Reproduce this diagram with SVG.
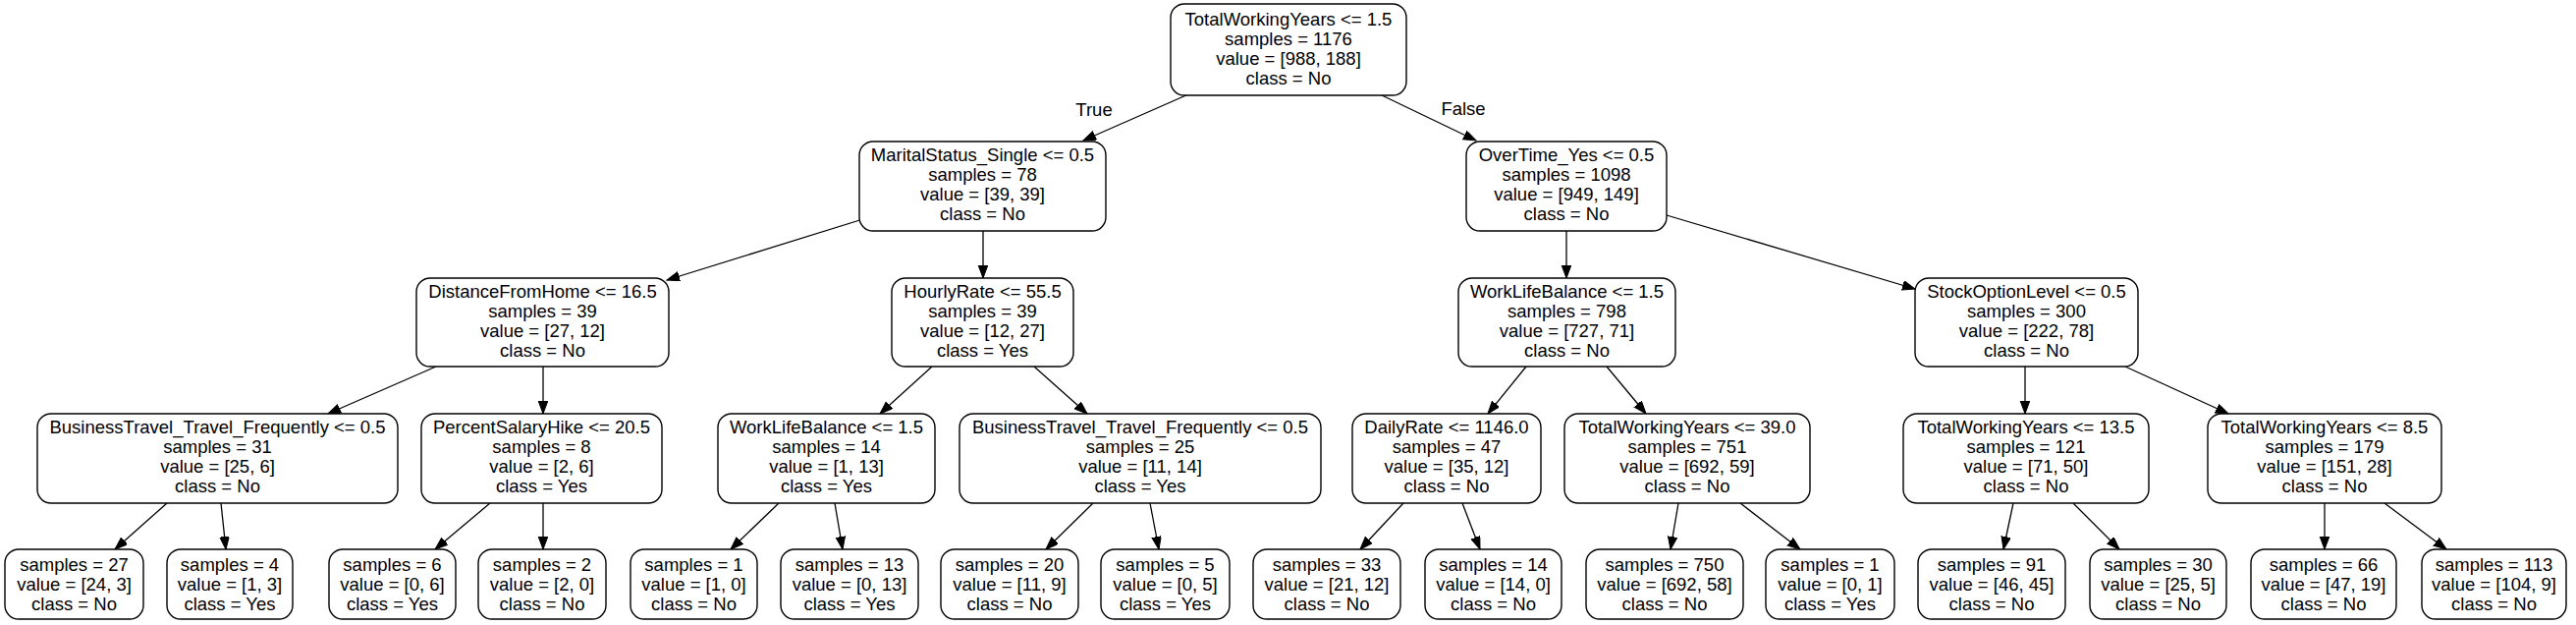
<svg xmlns="http://www.w3.org/2000/svg" width="2623" height="636" viewBox="0 0 2623 636">
<style>
.n rect{fill:#fff;stroke:#000;stroke-width:1.4}
text{font-family:"Liberation Sans",Arial,sans-serif;font-size:18.5px;fill:#000;text-anchor:middle}
.e line{stroke:#000;stroke-width:1.3;marker-end:url(#ah)}
</style>
<defs>
<marker id="ah" markerUnits="userSpaceOnUse" markerWidth="14" markerHeight="11" refX="13" refY="4.8" orient="auto">
<path d="M0,0 L13,4.8 L0,9.6 z" fill="#000" stroke="#000" stroke-width="1"/>
</marker>
</defs>
<rect width="2623" height="636" fill="#fff"/>
<g id="connectors" class="e">
<line x1="1210" y1="96" x2="1103" y2="143"/>
<line x1="1405" y1="96" x2="1503" y2="143"/>
<line x1="882" y1="222" x2="679" y2="285"/>
<line x1="1001" y1="235" x2="1001" y2="283"/>
<line x1="1595" y1="235" x2="1595" y2="283"/>
<line x1="1697" y1="219" x2="1950" y2="294"/>
<line x1="444" y1="373" x2="334" y2="421"/>
<line x1="553" y1="373" x2="553" y2="421"/>
<line x1="949" y1="373" x2="896" y2="421"/>
<line x1="1053" y1="373" x2="1107" y2="421"/>
<line x1="1554" y1="373" x2="1515" y2="421"/>
<line x1="1636" y1="373" x2="1676" y2="421"/>
<line x1="2062" y1="373" x2="2062" y2="421"/>
<line x1="2164" y1="373" x2="2269" y2="421"/>
<line x1="170" y1="512" x2="117" y2="559"/>
<line x1="225" y1="512" x2="230" y2="559"/>
<line x1="499" y1="512" x2="443" y2="559"/>
<line x1="553" y1="512" x2="553" y2="559"/>
<line x1="793" y1="512" x2="744" y2="559"/>
<line x1="850" y1="512" x2="858" y2="559"/>
<line x1="1113" y1="512" x2="1065" y2="559"/>
<line x1="1171" y1="512" x2="1180" y2="559"/>
<line x1="1429" y1="512" x2="1385" y2="559"/>
<line x1="1489" y1="512" x2="1507" y2="559"/>
<line x1="1709" y1="512" x2="1701" y2="559"/>
<line x1="1772" y1="512" x2="1833" y2="559"/>
<line x1="2050" y1="512" x2="2040" y2="559"/>
<line x1="2111" y1="512" x2="2158" y2="559"/>
<line x1="2367" y1="512" x2="2367" y2="559"/>
<line x1="2428" y1="512" x2="2491" y2="559"/>
<text x="1114" y="118">True</text>
<text x="1490" y="117">False</text>
</g>
<g id="n0" class="n"><rect x="1192" y="4" width="240" height="93" rx="14"/><text x="1312" y="26">TotalWorkingYears &lt;= 1.5</text><text x="1312" y="46">samples = 1176</text><text x="1312" y="66">value = [988, 188]</text><text x="1312" y="86">class = No</text></g>
<g id="n1" class="n"><rect x="875" y="144" width="251" height="91" rx="14"/><text x="1000.5" y="164">MaritalStatus_Single &lt;= 0.5</text><text x="1000.5" y="184">samples = 78</text><text x="1000.5" y="204">value = [39, 39]</text><text x="1000.5" y="224">class = No</text></g>
<g id="n2" class="n"><rect x="1493" y="144" width="204" height="91" rx="14"/><text x="1595" y="164">OverTime_Yes &lt;= 0.5</text><text x="1595" y="184">samples = 1098</text><text x="1595" y="204">value = [949, 149]</text><text x="1595" y="224">class = No</text></g>
<g id="n3" class="n"><rect x="424" y="283" width="257" height="90" rx="14"/><text x="552.5" y="303">DistanceFromHome &lt;= 16.5</text><text x="552.5" y="323">samples = 39</text><text x="552.5" y="343">value = [27, 12]</text><text x="552.5" y="363">class = No</text></g>
<g id="n4" class="n"><rect x="908" y="283" width="185" height="90" rx="14"/><text x="1000.5" y="303">HourlyRate &lt;= 55.5</text><text x="1000.5" y="323">samples = 39</text><text x="1000.5" y="343">value = [12, 27]</text><text x="1000.5" y="363">class = Yes</text></g>
<g id="n5" class="n"><rect x="1485" y="283" width="221" height="90" rx="14"/><text x="1595.5" y="303">WorkLifeBalance &lt;= 1.5</text><text x="1595.5" y="323">samples = 798</text><text x="1595.5" y="343">value = [727, 71]</text><text x="1595.5" y="363">class = No</text></g>
<g id="n6" class="n"><rect x="1950" y="283" width="227" height="90" rx="14"/><text x="2063.5" y="303">StockOptionLevel &lt;= 0.5</text><text x="2063.5" y="323">samples = 300</text><text x="2063.5" y="343">value = [222, 78]</text><text x="2063.5" y="363">class = No</text></g>
<g id="n7" class="n"><rect x="38" y="421" width="367" height="91" rx="14"/><text x="221.5" y="441">BusinessTravel_Travel_Frequently &lt;= 0.5</text><text x="221.5" y="461">samples = 31</text><text x="221.5" y="481">value = [25, 6]</text><text x="221.5" y="501">class = No</text></g>
<g id="n8" class="n"><rect x="429" y="421" width="245" height="91" rx="14"/><text x="551.5" y="441">PercentSalaryHike &lt;= 20.5</text><text x="551.5" y="461">samples = 8</text><text x="551.5" y="481">value = [2, 6]</text><text x="551.5" y="501">class = Yes</text></g>
<g id="n9" class="n"><rect x="731" y="421" width="221" height="91" rx="14"/><text x="841.5" y="441">WorkLifeBalance &lt;= 1.5</text><text x="841.5" y="461">samples = 14</text><text x="841.5" y="481">value = [1, 13]</text><text x="841.5" y="501">class = Yes</text></g>
<g id="n10" class="n"><rect x="977" y="421" width="368" height="91" rx="14"/><text x="1161" y="441">BusinessTravel_Travel_Frequently &lt;= 0.5</text><text x="1161" y="461">samples = 25</text><text x="1161" y="481">value = [11, 14]</text><text x="1161" y="501">class = Yes</text></g>
<g id="n11" class="n"><rect x="1377" y="421" width="192" height="91" rx="14"/><text x="1473" y="441">DailyRate &lt;= 1146.0</text><text x="1473" y="461">samples = 47</text><text x="1473" y="481">value = [35, 12]</text><text x="1473" y="501">class = No</text></g>
<g id="n12" class="n"><rect x="1593" y="421" width="250" height="91" rx="14"/><text x="1718" y="441">TotalWorkingYears &lt;= 39.0</text><text x="1718" y="461">samples = 751</text><text x="1718" y="481">value = [692, 59]</text><text x="1718" y="501">class = No</text></g>
<g id="n13" class="n"><rect x="1938" y="421" width="250" height="91" rx="14"/><text x="2063" y="441">TotalWorkingYears &lt;= 13.5</text><text x="2063" y="461">samples = 121</text><text x="2063" y="481">value = [71, 50]</text><text x="2063" y="501">class = No</text></g>
<g id="n14" class="n"><rect x="2248" y="421" width="238" height="91" rx="14"/><text x="2367" y="441">TotalWorkingYears &lt;= 8.5</text><text x="2367" y="461">samples = 179</text><text x="2367" y="481">value = [151, 28]</text><text x="2367" y="501">class = No</text></g>
<g id="l1" class="n"><rect x="5" y="559" width="141" height="71" rx="14"/><text x="75.5" y="581">samples = 27</text><text x="75.5" y="601">value = [24, 3]</text><text x="75.5" y="621">class = No</text></g>
<g id="l2" class="n"><rect x="170" y="559" width="128" height="71" rx="14"/><text x="234" y="581">samples = 4</text><text x="234" y="601">value = [1, 3]</text><text x="234" y="621">class = Yes</text></g>
<g id="l3" class="n"><rect x="335" y="559" width="129" height="71" rx="14"/><text x="399.5" y="581">samples = 6</text><text x="399.5" y="601">value = [0, 6]</text><text x="399.5" y="621">class = Yes</text></g>
<g id="l4" class="n"><rect x="487" y="559" width="130" height="71" rx="14"/><text x="552" y="581">samples = 2</text><text x="552" y="601">value = [2, 0]</text><text x="552" y="621">class = No</text></g>
<g id="l5" class="n"><rect x="642" y="559" width="129" height="71" rx="14"/><text x="706.5" y="581">samples = 1</text><text x="706.5" y="601">value = [1, 0]</text><text x="706.5" y="621">class = No</text></g>
<g id="l6" class="n"><rect x="795" y="559" width="140" height="71" rx="14"/><text x="865" y="581">samples = 13</text><text x="865" y="601">value = [0, 13]</text><text x="865" y="621">class = Yes</text></g>
<g id="l7" class="n"><rect x="958" y="559" width="140" height="71" rx="14"/><text x="1028" y="581">samples = 20</text><text x="1028" y="601">value = [11, 9]</text><text x="1028" y="621">class = No</text></g>
<g id="l8" class="n"><rect x="1121" y="559" width="131" height="71" rx="14"/><text x="1186.5" y="581">samples = 5</text><text x="1186.5" y="601">value = [0, 5]</text><text x="1186.5" y="621">class = Yes</text></g>
<g id="l9" class="n"><rect x="1276" y="559" width="150" height="71" rx="14"/><text x="1351" y="581">samples = 33</text><text x="1351" y="601">value = [21, 12]</text><text x="1351" y="621">class = No</text></g>
<g id="l10" class="n"><rect x="1451" y="559" width="139" height="71" rx="14"/><text x="1520.5" y="581">samples = 14</text><text x="1520.5" y="601">value = [14, 0]</text><text x="1520.5" y="621">class = No</text></g>
<g id="l11" class="n"><rect x="1615" y="559" width="160" height="71" rx="14"/><text x="1695" y="581">samples = 750</text><text x="1695" y="601">value = [692, 58]</text><text x="1695" y="621">class = No</text></g>
<g id="l12" class="n"><rect x="1798" y="559" width="131" height="71" rx="14"/><text x="1863.5" y="581">samples = 1</text><text x="1863.5" y="601">value = [0, 1]</text><text x="1863.5" y="621">class = Yes</text></g>
<g id="l13" class="n"><rect x="1953" y="559" width="150" height="71" rx="14"/><text x="2028" y="581">samples = 91</text><text x="2028" y="601">value = [46, 45]</text><text x="2028" y="621">class = No</text></g>
<g id="l14" class="n"><rect x="2128" y="559" width="139" height="71" rx="14"/><text x="2197.5" y="581">samples = 30</text><text x="2197.5" y="601">value = [25, 5]</text><text x="2197.5" y="621">class = No</text></g>
<g id="l15" class="n"><rect x="2292" y="559" width="148" height="71" rx="14"/><text x="2366" y="581">samples = 66</text><text x="2366" y="601">value = [47, 19]</text><text x="2366" y="621">class = No</text></g>
<g id="l16" class="n"><rect x="2466" y="559" width="147" height="71" rx="14"/><text x="2539.5" y="581">samples = 113</text><text x="2539.5" y="601">value = [104, 9]</text><text x="2539.5" y="621">class = No</text></g>
</svg>
